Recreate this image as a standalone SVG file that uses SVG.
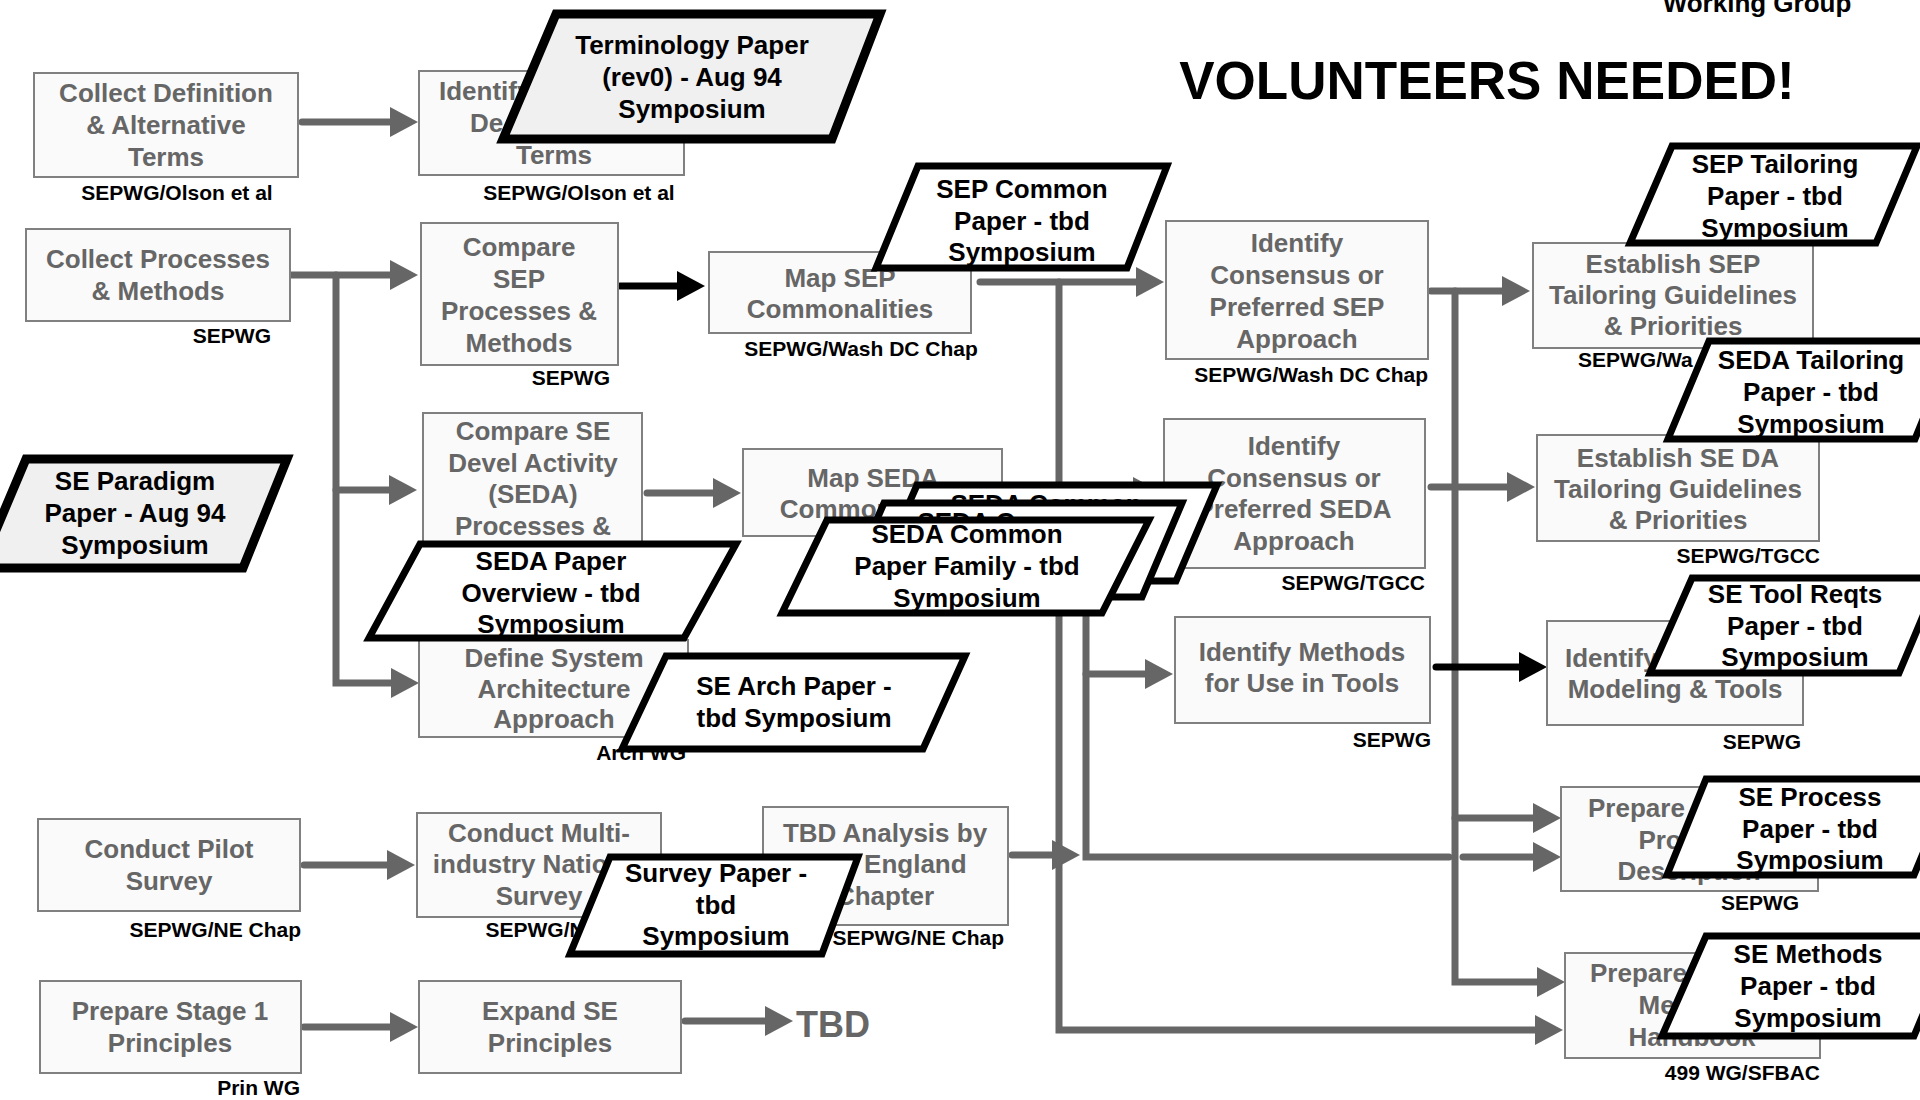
<svg xmlns="http://www.w3.org/2000/svg" width="1920" height="1100" viewBox="0 0 1920 1100">
  <style>
    .bx { fill: #fafafa; stroke: #808080; stroke-width: 2; }
    .bt { font-family: "Liberation Sans", Arial, sans-serif; font-weight: bold; font-size: 26px; fill: #666; text-anchor: middle; }
    .st { text-anchor: start; }
    .big { font-size: 36px; }
    .lb { font-family: "Liberation Sans", Arial, sans-serif; font-weight: bold; font-size: 21px; fill: #000; }
    .pp { fill: #fff; stroke: #000; stroke-width: 7; stroke-linejoin: miter; }
    .pg { fill: #f0f0f0; stroke-width: 9; }
    .pt { font-family: "Liberation Sans", Arial, sans-serif; font-weight: bold; font-size: 26px; fill: #000; text-anchor: middle; }
    .c { fill: none; stroke: #666; stroke-width: 7; stroke-linecap: round; }
    .k { stroke: #000; }
    .hd { font-family: "Liberation Sans", Arial, sans-serif; font-weight: bold; fill: #000; text-anchor: middle; }
  </style>
  <defs>
    <marker id="ah" viewBox="0 0 28 30" refX="18" refY="15" markerWidth="28" markerHeight="30" markerUnits="userSpaceOnUse" orient="auto">
      <path d="M0,0 L28,15 L0,30 Z" fill="#666"/>
    </marker>
    <marker id="ak" viewBox="0 0 28 30" refX="18" refY="15" markerWidth="28" markerHeight="30" markerUnits="userSpaceOnUse" orient="auto">
      <path d="M0,0 L28,15 L0,30 Z" fill="#000"/>
    </marker>
  </defs>

  <rect width="1920" height="1100" fill="#fff"/>

  <!-- headings -->
  <text class="hd" x="1757" y="12" font-size="26">Working Group</text>
  <text class="hd" x="1487" y="99" font-size="53">VOLUNTEERS NEEDED!</text>

  <!-- connectors -->
  <g id="connectors">
    <path class="c" d="M302,122 H408" marker-end="url(#ah)"/>
    <path class="c" d="M290,275 H408" marker-end="url(#ah)"/>
    <path class="c" d="M336,275 V683 H409" marker-end="url(#ah)"/>
    <path class="c" d="M336,490 H407" marker-end="url(#ah)"/>
    <path class="c k" d="M620,286 H695" marker-end="url(#ak)"/>
    <path class="c" d="M647,493 H731" marker-end="url(#ah)"/>
    <path class="c" d="M980,282 H1154" marker-end="url(#ah)"/>
    <path class="c" d="M1059,282 V1030 H1553" marker-end="url(#ah)"/>
    <path class="c" d="M1008,492 H1151" marker-end="url(#ah)"/>
    <path class="c" d="M1086,492 V857 H1449"/>
    <path class="c" d="M1463,857 H1551" marker-end="url(#ah)"/>
    <path class="c" d="M1086,674 H1163" marker-end="url(#ah)"/>
    <path class="c" d="M1431,291 H1520" marker-end="url(#ah)"/>
    <path class="c" d="M1455,291 V982 H1555" marker-end="url(#ah)"/>
    <path class="c" d="M1455,818 H1551" marker-end="url(#ah)"/>
    <path class="c" d="M1431,487 H1525" marker-end="url(#ah)"/>
    <path class="c k" d="M1436,667 H1537" marker-end="url(#ak)"/>
    <path class="c" d="M304,865 H405" marker-end="url(#ah)"/>
    <path class="c" d="M1012,855 H1070" marker-end="url(#ah)"/>
    <path class="c" d="M304,1027 H408" marker-end="url(#ah)"/>
    <path class="c" d="M685,1021 H783" marker-end="url(#ah)"/>
  </g>

  <!-- process boxes -->
  <g id="collect-definition">
    <rect class="bx" x="34" y="73" width="264" height="104"/>
    <text class="bt"><tspan x="166" y="102">Collect Definition</tspan><tspan x="166" y="134">&amp; Alternative</tspan><tspan x="166" y="166">Terms</tspan></text>
    <text class="lb" x="177" y="200" text-anchor="middle">SEPWG/Olson et al</text>
  </g>
  <g id="identify-definitions">
    <rect class="bx" x="419" y="71" width="265" height="104"/>
    <text class="bt st"><tspan x="439" y="100">Identify</tspan><tspan x="470" y="132">De</tspan></text>
    <text class="bt" x="554" y="164">Terms</text>
    <text class="lb" x="579" y="200" text-anchor="middle">SEPWG/Olson et al</text>
  </g>
  <g id="collect-processes">
    <rect class="bx" x="26" y="229" width="264" height="92"/>
    <text class="bt"><tspan x="158" y="268">Collect Processes</tspan><tspan x="158" y="300">&amp; Methods</tspan></text>
    <text class="lb" x="271" y="343" text-anchor="end">SEPWG</text>
  </g>
  <g id="compare-sep">
    <rect class="bx" x="421" y="223" width="197" height="142"/>
    <text class="bt"><tspan x="519" y="256">Compare</tspan><tspan x="519" y="288">SEP</tspan><tspan x="519" y="320">Processes &amp;</tspan><tspan x="519" y="352">Methods</tspan></text>
    <text class="lb" x="610" y="385" text-anchor="end">SEPWG</text>
  </g>
  <g id="map-sep">
    <rect class="bx" x="709" y="252" width="262" height="81"/>
    <text class="bt"><tspan x="840" y="287">Map SEP</tspan><tspan x="840" y="318">Commonalities</tspan></text>
    <text class="lb" x="861" y="356" text-anchor="middle">SEPWG/Wash DC Chap</text>
  </g>
  <g id="consensus-sep">
    <rect class="bx" x="1166" y="221" width="262" height="138"/>
    <text class="bt"><tspan x="1297" y="252">Identify</tspan><tspan x="1297" y="284">Consensus or</tspan><tspan x="1297" y="316">Preferred SEP</tspan><tspan x="1297" y="348">Approach</tspan></text>
    <text class="lb" x="1428" y="382" text-anchor="end">SEPWG/Wash DC Chap</text>
  </g>
  <g id="establish-sep">
    <rect class="bx" x="1533" y="243" width="280" height="105"/>
    <text class="bt"><tspan x="1673" y="273">Establish SEP</tspan><tspan x="1673" y="304">Tailoring Guidelines</tspan><tspan x="1673" y="335">&amp; Priorities</tspan></text>
    <text class="lb" x="1578" y="367">SEPWG/Wa</text>
  </g>
  <g id="compare-seda">
    <rect class="bx" x="423" y="413" width="219" height="190"/>
    <text class="bt"><tspan x="533" y="440">Compare SE</tspan><tspan x="533" y="472">Devel Activity</tspan><tspan x="533" y="503">(SEDA)</tspan><tspan x="533" y="535">Processes &amp;</tspan></text>
  </g>
  <g id="map-seda">
    <rect class="bx" x="743" y="449" width="259" height="87"/>
    <text class="bt"><tspan x="873" y="487">Map SEDA</tspan><tspan x="873" y="518">Commonalities</tspan></text>
  </g>
  <g id="define-architecture">
    <rect class="bx" x="419" y="640" width="269" height="97"/>
    <text class="bt"><tspan x="554" y="667">Define System</tspan><tspan x="554" y="698">Architecture</tspan><tspan x="554" y="728">Approach</tspan></text>
    <text class="lb" x="686" y="760" text-anchor="end">Arch WG</text>
  </g>
  <g id="consensus-seda">
    <rect class="bx" x="1164" y="419" width="261" height="149"/>
    <text class="bt"><tspan x="1294" y="455">Identify</tspan><tspan x="1294" y="487">Consensus or</tspan><tspan x="1294" y="518">Preferred SEDA</tspan><tspan x="1294" y="550">Approach</tspan></text>
    <text class="lb" x="1425" y="590" text-anchor="end">SEPWG/TGCC</text>
  </g>
  <g id="establish-seda">
    <rect class="bx" x="1537" y="435" width="282" height="106"/>
    <text class="bt"><tspan x="1678" y="467">Establish SE DA</tspan><tspan x="1678" y="498">Tailoring Guidelines</tspan><tspan x="1678" y="529">&amp; Priorities</tspan></text>
    <text class="lb" x="1820" y="563" text-anchor="end">SEPWG/TGCC</text>
  </g>
  <g id="identify-methods">
    <rect class="bx" x="1175" y="617" width="255" height="106"/>
    <text class="bt"><tspan x="1302" y="661">Identify Methods</tspan><tspan x="1302" y="692">for Use in Tools</tspan></text>
    <text class="lb" x="1431" y="747" text-anchor="end">SEPWG</text>
  </g>
  <g id="identify-modeling">
    <rect class="bx" x="1547" y="621" width="256" height="104"/>
    <text class="bt st" x="1565" y="667">Identify</text>
    <text class="bt" x="1675" y="698">Modeling &amp; Tools</text>
    <text class="lb" x="1801" y="749" text-anchor="end">SEPWG</text>
  </g>
  <g id="prepare-process">
    <rect class="bx" x="1561" y="787" width="257" height="104"/>
    <text class="bt st" x="1588" y="817">Prepare</text>
    <text class="bt"><tspan x="1689" y="849">Process</tspan><tspan x="1689" y="880">Description</tspan></text>
    <text class="lb" x="1760" y="910" text-anchor="middle">SEPWG</text>
  </g>
  <g id="prepare-methods">
    <rect class="bx" x="1565" y="953" width="255" height="105"/>
    <text class="bt st" x="1590" y="982">Prepare</text>
    <text class="bt"><tspan x="1692" y="1014">Methods</tspan><tspan x="1692" y="1046">Handbook</tspan></text>
    <text class="lb" x="1820" y="1080" text-anchor="end">499 WG/SFBAC</text>
  </g>
  <g id="pilot-survey">
    <rect class="bx" x="38" y="819" width="262" height="92"/>
    <text class="bt"><tspan x="169" y="858">Conduct Pilot</tspan><tspan x="169" y="890">Survey</tspan></text>
    <text class="lb" x="301" y="937" text-anchor="end">SEPWG/NE Chap</text>
  </g>
  <g id="national-survey">
    <rect class="bx" x="417" y="813" width="244" height="104"/>
    <text class="bt"><tspan x="539" y="842">Conduct Multi-</tspan><tspan x="539" y="873">industry National</tspan><tspan x="539" y="905">Survey</tspan></text>
    <text class="lb" x="657" y="937" text-anchor="end">SEPWG/NE Chap</text>
  </g>
  <g id="tbd-analysis">
    <rect class="bx" x="763" y="807" width="245" height="118"/>
    <text class="bt"><tspan x="885" y="842">TBD Analysis by</tspan><tspan x="885" y="873">New England</tspan><tspan x="885" y="905">Chapter</tspan></text>
    <text class="lb" x="1004" y="945" text-anchor="end">SEPWG/NE Chap</text>
  </g>
  <g id="stage1-principles">
    <rect class="bx" x="40" y="981" width="261" height="92"/>
    <text class="bt"><tspan x="170" y="1020">Prepare Stage 1</tspan><tspan x="170" y="1052">Principles</tspan></text>
    <text class="lb" x="300" y="1095" text-anchor="end">Prin WG</text>
  </g>
  <g id="expand-principles">
    <rect class="bx" x="419" y="981" width="262" height="92"/>
    <text class="bt"><tspan x="550" y="1020">Expand SE</tspan><tspan x="550" y="1052">Principles</tspan></text>
  </g>
  <g id="tbd">
    <text class="bt big" x="833" y="1037">TBD</text>
  </g>

  <!-- papers -->
  <g id="paper-terminology">
    <path class="pp pg" d="M556,14 L880,14 L832,139 L503,139 Z"/>
    <text class="pt"><tspan x="692" y="54">Terminology Paper</tspan><tspan x="692" y="86">(rev0) - Aug 94</tspan><tspan x="692" y="118">Symposium</tspan></text>
  </g>
  <g id="paper-paradigm">
    <path class="pp pg" d="M26,459 L287,459 L243,568 L-20,568 Z"/>
    <text class="pt"><tspan x="135" y="490">SE Paradigm</tspan><tspan x="135" y="522">Paper - Aug 94</tspan><tspan x="135" y="554">Symposium</tspan></text>
  </g>
  <g id="paper-sep-common">
    <path class="pp" d="M918,166 L1167,166 L1127,268 L876,268 Z"/>
    <text class="pt"><tspan x="1022" y="198">SEP Common</tspan><tspan x="1022" y="230">Paper - tbd</tspan><tspan x="1022" y="261">Symposium</tspan></text>
  </g>
  <g id="paper-sep-tailoring">
    <path class="pp" d="M1672,146 L1917,146 L1876,243 L1630,243 Z"/>
    <text class="pt"><tspan x="1775" y="173">SEP Tailoring</tspan><tspan x="1775" y="205">Paper - tbd</tspan><tspan x="1775" y="237">Symposium</tspan></text>
  </g>
  <g id="paper-seda-tailoring">
    <path class="pp" d="M1709,341 L1955,341 L1915,439 L1668,439 Z"/>
    <text class="pt"><tspan x="1811" y="369">SEDA Tailoring</tspan><tspan x="1811" y="401">Paper - tbd</tspan><tspan x="1811" y="433">Symposium</tspan></text>
  </g>
  <g id="paper-seda-overview">
    <path class="pp" d="M420,544 L736,544 L684,638 L369,638 Z"/>
    <text class="pt"><tspan x="551" y="570">SEDA Paper</tspan><tspan x="551" y="602">Overview - tbd</tspan><tspan x="551" y="633">Symposium</tspan></text>
  </g>
  <g id="paper-se-arch">
    <path class="pp" d="M666,656 L965,656 L923,749 L622,749 Z"/>
    <text class="pt"><tspan x="794" y="695">SE Arch Paper -</tspan><tspan x="794" y="727">tbd Symposium</tspan></text>
  </g>
  <g id="paper-seda-common">
    <!-- stacked family: back, middle, front -->
    <path class="pp" d="M917,485 L1217,485 L1176,581 L875,581 Z"/>
    <text class="pt" x="1046" y="513">SEDA Common</text>
    <path class="pp" d="M884,503 L1182,503 L1142,597 L843,597 Z"/>
    <text class="pt" x="1013" y="531">SEDA Common</text>
    <path class="pp" d="M827,520 L1149,520 L1102,613 L782,613 Z"/>
    <text class="pt"><tspan x="967" y="543">SEDA Common</tspan><tspan x="967" y="575">Paper Family - tbd</tspan><tspan x="967" y="607">Symposium</tspan></text>
  </g>
  <g id="paper-tool-reqts">
    <path class="pp" d="M1692,578 L1939,578 L1899,673 L1650,673 Z"/>
    <text class="pt"><tspan x="1795" y="603">SE Tool Reqts</tspan><tspan x="1795" y="635">Paper - tbd</tspan><tspan x="1795" y="666">Symposium</tspan></text>
  </g>
  <g id="paper-se-process">
    <path class="pp" d="M1706,779 L1954,779 L1914,875 L1667,875 Z"/>
    <text class="pt"><tspan x="1810" y="806">SE Process</tspan><tspan x="1810" y="838">Paper - tbd</tspan><tspan x="1810" y="869">Symposium</tspan></text>
  </g>
  <g id="paper-se-methods">
    <path class="pp" d="M1706,936 L1956,936 L1914,1036 L1662,1036 Z"/>
    <text class="pt"><tspan x="1808" y="963">SE Methods</tspan><tspan x="1808" y="995">Paper - tbd</tspan><tspan x="1808" y="1027">Symposium</tspan></text>
  </g>
  <g id="paper-survey">
    <path class="pp" d="M610,857 L858,857 L822,954 L570,954 Z"/>
    <text class="pt"><tspan x="716" y="882">Survey Paper -</tspan><tspan x="716" y="914">tbd</tspan><tspan x="716" y="945">Symposium</tspan></text>
  </g>
</svg>
